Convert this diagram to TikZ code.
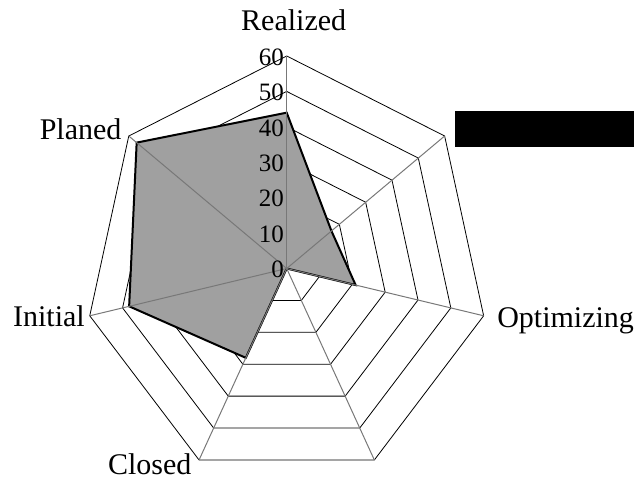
\documentclass[tikz,border=0pt]{standalone}
\usepackage{fontspec}
\setmainfont{Liberation Serif}
\usetikzlibrary{calc}
\definecolor{radar-fill}{HTML}{A0A0A0}
\definecolor{radar-axis}{HTML}{787878}
\tikzset{
  ring/.style={draw=black,line width=0.8pt},
  spoke/.style={draw=radar-axis,line width=1pt},
  series/.style={draw=black,fill=radar-fill,line width=2pt,line join=miter},
  category/.style={font=\fontsize{30}{36}\selectfont,inner sep=0pt},
  tick label/.style={font=\fontsize{25}{30}\selectfont,inner sep=0pt,anchor=east},
}

\begin{document}
\begin{tikzpicture}[x=3.367pt, y=3.542pt]
\useasboundingbox (-286.7pt,-211.5pt) rectangle (347.3pt,268.5pt);
% axis ends
\foreach \name [count=\i from 0] in {realized,upright,optimizing,lowright,closed,initial,planed} {
  \coordinate (\name) at (90-\i*360/7:60);
}
% rings
\foreach \r in {10,20,...,60} {
  \draw[ring] (90:\r) \foreach \a in {1,...,6} { -- (90-\a*360/7:\r) } -- cycle;
}
% series
\draw[series] (90:44) -- (90-360/7:17) -- (90-2*360/7:21) -- (0,0)
  -- (90-4*360/7:28) -- (90-5*360/7:48) -- (90-6*360/7:57) -- cycle;
% spokes
\foreach \name in {upright,optimizing,lowright,closed,initial,planed} {
  \draw[spoke] (0,0) -- (\name);
}
\draw[spoke,line width=1.5pt] (0,0) -- (realized);
% value axis labels
\foreach \v in {0,10,...,60} {
  \node[tick label] (tick\v) at ($(90:\v)+(-2.7pt,-1pt)$) {\v};
}
% category labels
\node[category,anchor=base] (realized label) at ($(realized)+(7pt,25.3pt)$) {Realized};
\node[category,anchor=base west] (optimizing label) at ($(optimizing)+(13.4pt,-12.2pt)$) {Optimizing};
\node[category,anchor=base east] (closed label) at ($(closed)+(-7.4pt,-15pt)$) {Closed};
\node[category,anchor=base east] (initial label) at ($(initial)+(-4.8pt,-10.9pt)$) {Initial};
\node[category,anchor=base east] (planed label) at ($(planed)+(-7.1pt,-3.3pt)$) {Planed};
% legend (blacked out)
\fill[black] (168.3pt,121.5pt) rectangle (347.3pt,157.5pt);
\end{tikzpicture}
\end{document}
